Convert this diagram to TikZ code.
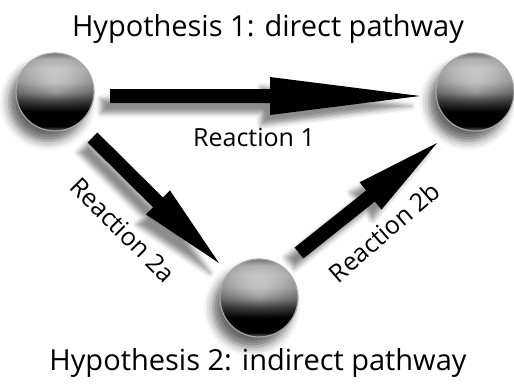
\documentclass[tikz,border=0pt]{standalone}
\usepackage{fontspec}
\setmainfont{Open Sans}
\usetikzlibrary{calc,shadows.blur,fadings}

% glossy black ball: light cap on top, black body, faint reflection at the bottom
\pgfdeclareverticalshading{glossyball}{100bp}{%
  color(0bp)=(black!40);
  color(25bp)=(black!40);
  color(28bp)=(black);
  color(37bp)=(black);
  color(44bp)=(black!72);
  color(50bp)=(black!40);
  color(57bp)=(black!17);
  color(65bp)=(black!5);
  color(71bp)=(black!7);
  color(75bp)=(black!35);
  color(100bp)=(black!35)}

% darkening towards the rim of a ball
\tikzfading[name=rimfade,
  inner color=transparent!100, outer color=transparent!70]

\tikzset{
  ball/.style={circle, minimum size=78pt, inner sep=0pt,
    shading=glossyball, draw=black!35, line width=1.2pt,
    path picture={\fill[black, path fading=rimfade]
      (path picture bounding box.south west) rectangle
      (path picture bounding box.north east);},
    blur shadow={shadow xshift=-7pt, shadow yshift=-10pt,
      shadow blur radius=9pt, shadow opacity=60}},
  fat/.style={fill=black,
    blur shadow={shadow xshift=-9pt, shadow yshift=-10pt,
      shadow blur radius=5pt, shadow opacity=45}},
  title/.style={font=\fontsize{29}{32}\selectfont, anchor=base},
  rlabel/.style={font=\fontsize{25}{28}\selectfont, anchor=base}
}

% thick arrow from #1 to #2: head length #3, head half-width #4, shaft half-width #5
\newcommand{\fatarrow}[5]{%
  \path ($(#2)!#3!(#1)$) coordinate (hb);
  \path[fat]
    ($(#1)!#5!90:(#2)$) -- ($(hb)!#5!90:(#2)$) -- ($(hb)!#4!90:(#2)$)
    -- (#2) --
    ($(hb)!#4!-90:(#2)$) -- ($(hb)!#5!-90:(#2)$) -- ($(#1)!#5!-90:(#2)$) -- cycle;
}

\begin{document}
\begin{tikzpicture}[x=1pt,y=-1pt]
  \useasboundingbox (0,0) rectangle (514,383);

  % the three species
  \node[ball] (A) at (55,92) {};
  \node[ball] (B) at (475,92) {};
  \node[ball] (C) at (259,298) {};

  % arrow end points
  \coordinate (r1s) at ($(A)+(55,4)$);
  \coordinate (r1t) at ($(B)+(-55,4)$);
  \coordinate (r2as) at ($(A)+(37.5,45.5)$);
  \coordinate (r2at) at ($(C)+(-40,-35)$);
  \coordinate (r2bs) at ($(C)+(40,-45)$);
  \coordinate (r2bt) at ($(B)+(-38,51)$);

  \fatarrow{r1s}{r1t}{150pt}{19pt}{7pt}
  \fatarrow{r2as}{r2at}{86pt}{17pt}{7pt}
  \fatarrow{r2bs}{r2bt}{85pt}{17.5pt}{7pt}

  % labels
  \node[title] (t1) at (268,36) {Hypothesis 1: direct pathway};
  \node[title] (t2) at (258,370) {Hypothesis 2: indirect pathway};
  \node[rlabel] (l1) at (254,146) {Reaction 1};
  \node[rlabel, anchor=center, rotate=-45] (l2a) at (123,230) {Reaction 2a};
  \node[rlabel, anchor=center, rotate=41] (l2b) at (384,232) {Reaction 2b};
\end{tikzpicture}
\end{document}
